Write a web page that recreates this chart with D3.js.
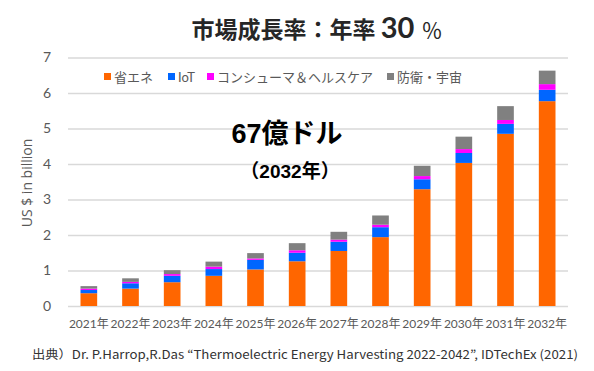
<!DOCTYPE html>
<html>
<head>
<meta charset="utf-8">
<script src="https://cdn.jsdelivr.net/npm/d3@7"></script>
<style>
  body { margin: 0; background: #fff; }
  svg { display: block; }
</style>
</head>
<body>
<svg width="594" height="371"></svg>
<script>
var years = ['2021年','2022年','2023年','2024年','2025年','2026年','2027年','2028年','2029年','2030年','2031年','2032年'];
var seriesNames = ['省エネ', 'IoT', 'コンシューマ＆ヘルスケア', '防衛・宇宙'];
var energySaving = [0.36, 0.49, 0.67, 0.85, 1.03, 1.26, 1.55, 1.94, 3.29, 4.03, 4.85, 5.77];
var iot =          [0.09, 0.15, 0.18, 0.19, 0.27, 0.24, 0.26, 0.28, 0.28, 0.28, 0.28, 0.32];
var consumer =     [0.04, 0.04, 0.05, 0.07, 0.04, 0.07, 0.06, 0.07, 0.09, 0.11, 0.11, 0.16];
var defense =      [0.07, 0.10, 0.11, 0.14, 0.15, 0.20, 0.22, 0.26, 0.29, 0.35, 0.39, 0.38];
var yTicks = [0, 1, 2, 3, 4, 5, 6, 7];
var colors = ['#ff6600', '#0066ff', '#ff00ff', '#808080'];

var table = years.map(function(y, i){
  return {year: y, s0: energySaving[i], s1: iot[i], s2: consumer[i], s3: defense[i]};
});

var svg = d3.select('svg');
var jp = "'Noto Sans CJK JP', sans-serif";
var num = "Lato, 'Noto Sans CJK JP', sans-serif";

var scaleX = d3.scaleBand().domain(years).range([68, 568]).paddingInner(0.6).paddingOuter(0.3);
var scaleY = d3.scaleLinear().domain([0, 7]).range([306, 57.5]);

// gridlines
svg.append('g')
  .selectAll('line')
  .data(yTicks)
  .enter()
  .append('line')
  .attr('x1', 68)
  .attr('x2', 568)
  .attr('y1', function(d){ return scaleY(d) + 0.5; })
  .attr('y2', function(d){ return scaleY(d) + 0.5; })
  .attr('stroke', '#d9d9d9')
  .attr('stroke-width', 1.3);

// y labels
var yAxis = svg.append('g')
  .attr('transform', 'translate(60,0)')
  .call(d3.axisLeft(scaleY).tickValues(yTicks).tickFormat(d3.format('d')).tickSize(0).tickPadding(0));
yAxis.select('.domain').remove();
yAxis.selectAll('text')
  .attr('font-family', num)
  .attr('font-size', 14)
  .attr('fill', '#595959')
  .attr('text-anchor', 'middle')
  .attr('x', -13);

// x labels
var xAxis = svg.append('g')
  .attr('transform', 'translate(0,306)')
  .call(d3.axisBottom(scaleX).tickSize(0).tickPadding(13));
xAxis.select('.domain').remove();
xAxis.selectAll('text')
  .attr('font-family', num)
  .attr('font-size', 12)
  .attr('fill', '#595959');

// stacked bars
var stack = d3.stack().keys(['s0', 's1', 's2', 's3']);
var layers = stack(table);

svg.append('g')
  .selectAll('g')
  .data(layers)
  .enter()
  .append('g')
  .attr('fill', function(d, i){ return colors[i]; })
  .selectAll('rect')
  .data(function(d){ return d; })
  .enter()
  .append('rect')
  .attr('x', function(d){ return scaleX(d.data.year); })
  .attr('width', scaleX.bandwidth())
  .attr('y', function(d){ return scaleY(d[1]); })
  .attr('height', function(d){ return scaleY(d[0]) - scaleY(d[1]); });

// y axis title
svg.append('text')
  .attr('transform', 'translate(32,183) rotate(270)')
  .attr('text-anchor', 'middle')
  .attr('font-family', "'Open Sans', sans-serif")
  .attr('font-size', 14)
  .attr('fill', '#595959')
  .text('US $  in billion');

// title
var title = svg.append('text')
  .attr('x', 317)
  .attr('y', 38)
  .attr('text-anchor', 'middle')
  .attr('font-family', jp)
  .attr('font-weight', 'bold')
  .attr('fill', '#262626');
title.append('tspan').attr('font-size', 23).text('市場成長率：年率 ');
title.append('tspan').attr('font-size', 29).attr('font-family', num).attr('font-weight', 'bold').text('30');
title.append('tspan').attr('font-size', 21).attr('font-weight', 'normal').attr('dx', 7).text('％');

// legend
var legendX = [104, 168, 207, 387];
var legend = svg.append('g')
  .selectAll('g')
  .data(seriesNames)
  .enter()
  .append('g')
  .attr('transform', function(d, i){ return 'translate(' + legendX[i] + ',77)'; });
legend.append('rect')
  .attr('x', 0)
  .attr('y', -4)
  .attr('width', 7)
  .attr('height', 7)
  .attr('fill', function(d, i){ return colors[i]; });
legend.append('text')
  .attr('x', 10)
  .attr('y', 5)
  .attr('font-family', function(d){ return d == 'IoT' ? num : jp; })
  .attr('font-size', 13)
  .attr('fill', '#595959')
  .text(function(d){ return d; });

// annotation
svg.append('text')
  .attr('x', 287)
  .attr('y', 143)
  .attr('text-anchor', 'middle')
  .attr('font-family', "'Liberation Sans', 'Noto Sans CJK JP', sans-serif")
  .attr('font-weight', 'bold')
  .attr('font-size', 27)
  .attr('fill', '#000')
  .text('67億ドル');
svg.append('text')
  .attr('x', 290)
  .attr('y', 178)
  .attr('text-anchor', 'middle')
  .attr('font-family', "'Liberation Sans', 'Noto Sans CJK JP', sans-serif")
  .attr('font-weight', 'bold')
  .attr('font-size', 19)
  .attr('fill', '#000')
  .text('（2032年）');

// source
svg.append('text')
  .attr('x', 32)
  .attr('y', 359)
  .attr('font-family', jp)
  .attr('font-size', 12)
  .attr('fill', '#333')
  .attr('textLength', 546)
  .attr('lengthAdjust', 'spacingAndGlyphs')
  .text('出典）Dr. P.Harrop,R.Das “Thermoelectric Energy Harvesting 2022-2042”, IDTechEx (2021)');
</script>
</body>
</html>
